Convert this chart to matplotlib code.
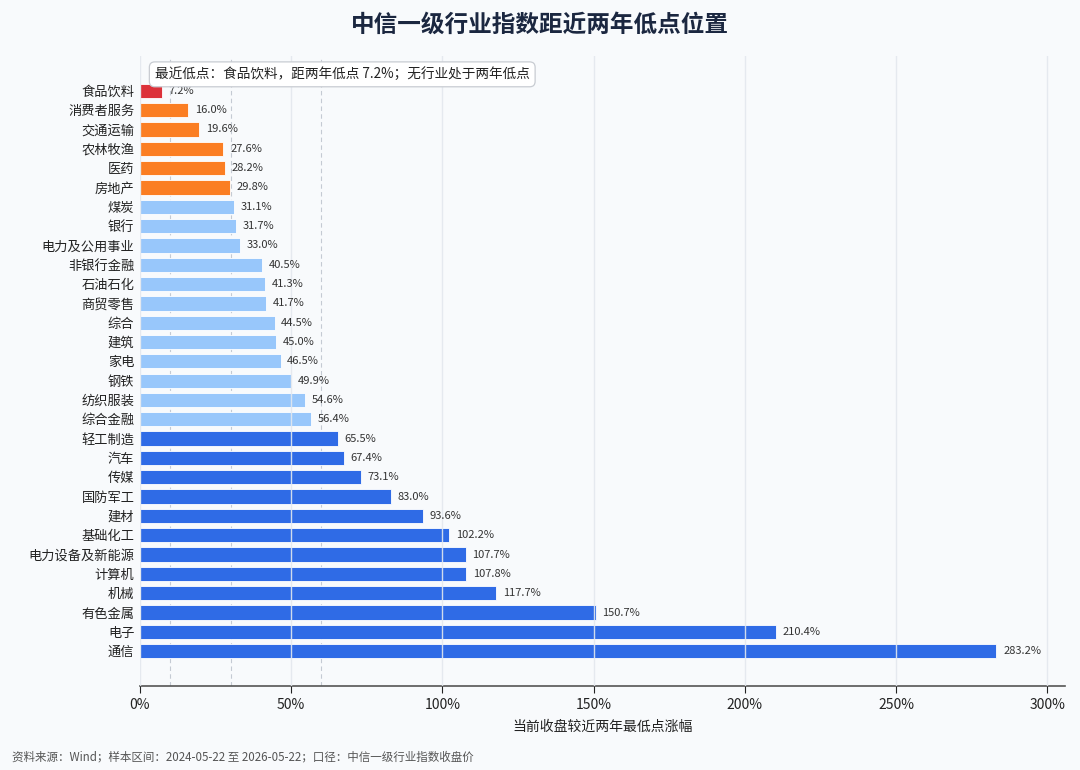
import matplotlib
matplotlib.use('Agg')
import matplotlib.pyplot as plt
from matplotlib.ticker import FuncFormatter

plt.rcParams['font.family'] = ['Noto Sans CJK SC', 'DejaVu Sans']
plt.rcParams['axes.unicode_minus'] = False

# 中信一级行业，距近两年低点涨幅（%），从上到下
industries = ['食品饮料', '消费者服务', '交通运输', '农林牧渔', '医药', '房地产', '煤炭', '银行',
              '电力及公用事业', '非银行金融', '石油石化', '商贸零售', '综合', '建筑', '家电', '钢铁',
              '纺织服装', '综合金融', '轻工制造', '汽车', '传媒', '国防军工', '建材', '基础化工',
              '电力设备及新能源', '计算机', '机械', '有色金属', '电子', '通信']
pct = [7.2, 16.0, 19.6, 27.6, 28.2, 29.8, 31.1, 31.7, 33.0, 40.5, 41.3, 41.7, 44.5, 45.0, 46.5,
       49.9, 54.6, 56.4, 65.5, 67.4, 73.1, 83.0, 93.6, 102.2, 107.7, 107.8, 117.7, 150.7, 210.4, 283.2]
thresholds = [10, 30, 60]

def bar_color(v):
    if v < 10:
        return '#dc3139'
    if v < 30:
        return '#fb7e23'
    if v < 60:
        return '#98c7fb'
    return '#2f6be6'

bg = '#f8fafc'
fig = plt.figure(figsize=(10.8, 7.7), dpi=100, facecolor=bg)
ax = fig.add_axes([140/1080, 1-686/770, 925/1080, 630/770])
ax.set_facecolor(bg)

ypos = list(range(len(industries)))
colors = [bar_color(v) for v in pct]
ax.barh(ypos, pct, height=0.74, color=colors, edgecolor='white', linewidth=0.6, zorder=2)

for y, v in zip(ypos, pct):
    ax.text(v + 2.2, y, f'{v:.1f}%', va='center', ha='left', fontsize=8, color='#333333', zorder=4)

for t in thresholds:
    ax.axvline(t, color='#c4cad3', linestyle=(0, (4, 3)), linewidth=0.8, zorder=1)

ax.set_xlim(0, max(pct) * 1.08)
ax.set_ylim(len(industries) - 1 + 1.8, -1.8)
ax.set_yticks(ypos)
ax.set_yticklabels(industries, fontsize=9.5, color='#222222')
ax.set_xticks([0, 50, 100, 150, 200, 250, 300])
ax.xaxis.set_major_formatter(FuncFormatter(lambda x, p: f'{x:.0f}%'))
ax.tick_params(axis='x', labelsize=10, colors='#222222', length=5, width=0.8)
ax.tick_params(axis='y', length=0, pad=4)
ax.grid(axis='x', color='#e3e8ee', linewidth=1.0, alpha=0.9, zorder=3)
ax.set_axisbelow(False)
for s in ['top', 'right', 'left']:
    ax.spines[s].set_visible(False)
ax.spines['bottom'].set_color('#555555')
ax.spines['bottom'].set_linewidth(1.2)
ax.set_xlabel('当前收盘较近两年最低点涨幅', fontsize=10, color='#222222', labelpad=6)

ax.text(0.016, 0.982, '最近低点：食品饮料，距两年低点 7.2%；无行业处于两年低点', transform=ax.transAxes,
        ha='left', va='top', fontsize=9.8, color='#222222', zorder=5,
        bbox=dict(boxstyle='round,pad=0.4', facecolor='white', edgecolor='#c8ccd2', linewidth=0.9))

fig.text(0.5, 1-25/770, '中信一级行业指数距近两年低点位置', ha='center', va='center',
         fontsize=17, fontweight='bold', color='#1b2740')
fig.text(12/1080, 1-757/770, '资料来源：Wind；样本区间：2024-05-22 至 2026-05-22；口径：中信一级行业指数收盘价',
         ha='left', va='center', fontsize=8.3, color='#555555')

fig.savefig('out.png', dpi=100, facecolor=bg)
